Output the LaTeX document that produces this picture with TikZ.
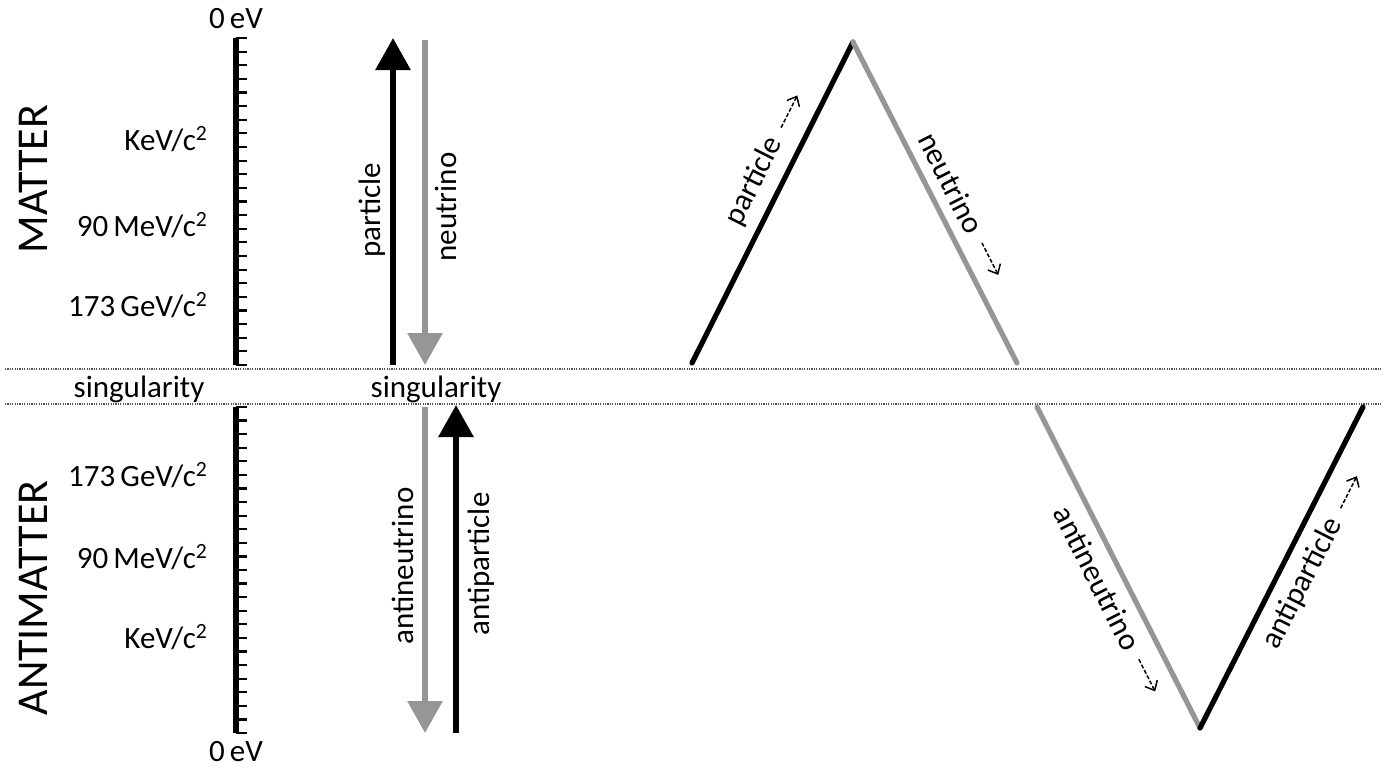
\documentclass[tikz,border=0pt]{standalone}
\usepackage{fontspec}
\setmainfont{Carlito}
\usepackage{tikz}
\usetikzlibrary{arrows.meta,calc}
\definecolor{linegray}{HTML}{969696}
\definecolor{dotgray}{HTML}{505050}

\begin{document}
\begin{tikzpicture}[
  x=0.5pt, y=-0.5pt,
  font=\fontsize{15.5}{18}\selectfont,
  axis/.style={line width=3pt},
  tick/.style={line width=1.1pt},
  sepline/.style={dotgray, line width=0.6pt, dash pattern=on 0.6pt off 0.6pt},
  bigarrow/.style={line width=3pt, -{Triangle[width=17pt,length=16pt]}},
  zig/.style={line width=2.6pt, line cap=round},
  side/.style={font=\fontsize{22}{26}\selectfont, rotate=90},
  vlbl/.style={rotate=90},
  slbl/.style={sloped, inner sep=0pt, text=black},
  hint/.style={black, line width=0.75pt, dash pattern=on 2pt off 1pt, -{Straight Barb[length=4pt,width=7pt]}}
]
\useasboundingbox (0,0) rectangle (1391,771);
\coordinate (sepa1) at (5,369);
\coordinate (sepa2) at (1381,369);
\coordinate (sepb1) at (5,404);
\coordinate (sepb2) at (1381,404);
\draw[sepline] (sepa1) -- (sepa2);
\draw[sepline] (sepb1) -- (sepb2);
\node[side] (matter) at (33,179) {MATTER};
\node[side] (antimatter) at (33,598) {ANTIMATTER};
\coordinate (mtop) at (235.5,38);
\coordinate (mbot) at (235.5,365);
\coordinate (atop) at (235.5,407);
\coordinate (abot) at (235.5,733);
\draw[axis] (mtop) -- (mbot);
\draw[axis] (atop) -- (abot);
\foreach \k in {0,...,24} {
  \draw[tick] ($(mtop)+(0,\k*13.625)$) -- ++(11,0);
  \draw[tick] ($(atop)+(0,\k*13.583)$) -- ++(11,0);
}
\node (zerotop) at (236,19) {0\,eV};
\node (zerobot) at (236,752) {0\,eV};
\node[anchor=east] (mkev) at (215,139) {KeV/c\textsuperscript{2}};
\node[anchor=east] (mmev) at (215,225) {90\,MeV/c\textsuperscript{2}};
\node[anchor=east] (mgev) at (215,305) {173\,GeV/c\textsuperscript{2}};
\node[anchor=east] (agev) at (215,475) {173\,GeV/c\textsuperscript{2}};
\node[anchor=east] (amev) at (215,557) {90\,MeV/c\textsuperscript{2}};
\node[anchor=east] (akev) at (215,637) {KeV/c\textsuperscript{2}};
\node (singl) at (139,389) {singularity};
\node (singr) at (436,389) {singularity};
\coordinate (part0) at (393,365);
\coordinate (part1) at (393,38);
\coordinate (neu0) at (425,40);
\coordinate (neu1) at (425,365);
\coordinate (aneu0) at (425,407);
\coordinate (aneu1) at (425,733);
\coordinate (apart0) at (456,733);
\coordinate (apart1) at (456,405);
\draw[bigarrow, black] (part0) -- (part1);
\draw[bigarrow, linegray] (neu0) -- (neu1);
\draw[bigarrow, linegray] (aneu0) -- (aneu1);
\draw[bigarrow, black] (apart0) -- (apart1);
\node[vlbl] (vpart) at (372,210) {particle};
\node[vlbl] (vneu) at (446,207) {neutrino};
\node[vlbl] (vaneu) at (403,566) {antineutrino};
\node[vlbl] (vapart) at (481,564) {antiparticle};
\coordinate (mL) at (692,363);
\coordinate (mtip) at (853,42);
\coordinate (mR) at (1017,363);
\coordinate (aL) at (1037,407);
\coordinate (atip) at (1200,728);
\coordinate (aR) at (1363,407);
\draw[zig, black] (mL) -- node[slbl, above=5pt, pos=0.53] (zpart) {particle} (mtip);
\draw[zig, linegray] (mtip) -- node[slbl, above=5pt, pos=0.473] (zneu) {neutrino} (mR);
\draw[zig, linegray] (aL) -- node[slbl, below=5pt, pos=0.5] (zaneu) {antineutrino} (atip);
\draw[zig, black] (atip) -- node[slbl, below=5pt, pos=0.4875] (zapart) {antiparticle} (aR);
\draw[hint] ($(zpart.east)!-5pt!(zpart.west)$) -- ($(zpart.east)!-23pt!(zpart.west)$);
\draw[hint] ($(zneu.east)!-5pt!(zneu.west)$) -- ($(zneu.east)!-23pt!(zneu.west)$);
\draw[hint] ($(zaneu.east)!-5pt!(zaneu.west)$) -- ($(zaneu.east)!-23pt!(zaneu.west)$);
\draw[hint] ($(zapart.east)!-5pt!(zapart.west)$) -- ($(zapart.east)!-23pt!(zapart.west)$);
\end{tikzpicture}
\end{document}
